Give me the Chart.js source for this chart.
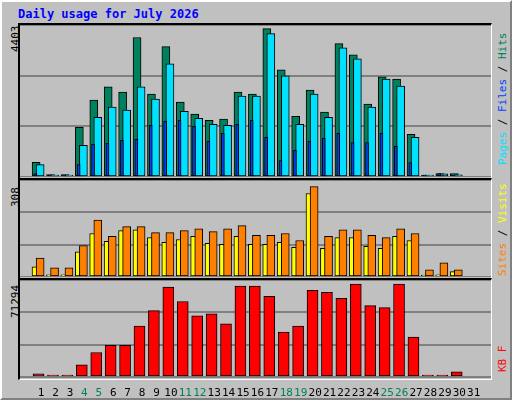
<!DOCTYPE html>
<html><head><meta charset="utf-8">
<script src="https://cdn.jsdelivr.net/npm/chart.js@4"></script>
<style>
body{margin:0;background:#C0C0C0;font-family:"DejaVu Sans Mono",monospace;}
#frame{position:absolute;left:0;top:0;width:508px;height:396px;border-top:2px solid #fff;border-left:2px solid #fff;border-right:2px solid #808080;border-bottom:2px solid #808080;}
#title{position:absolute;left:18px;top:7px;color:#0000FF;font-weight:bold;font-size:12px;}
.panel{position:absolute;left:18px;width:471px;border-top:2px solid #000;border-left:2px solid #000;border-right:1px solid #fff;}
canvas{position:absolute;}
.ylab{position:absolute;font-size:11px;transform-origin:0 0;transform:rotate(-90deg);white-space:nowrap;}
</style></head><body>
<div id="frame"></div>
<div id="title">Daily usage for July 2026</div>
<div class="panel" style="top:23px;height:154px"></div>
<div class="panel" style="top:178px;height:99px"></div>
<div class="panel" style="top:278px;height:99px;border-bottom:1px solid #fff"></div>
<div class="ylab" style="left:9px;top:52px">4403</div>
<div class="ylab" style="left:9px;top:207px">308</div>
<div class="ylab" style="left:9px;top:318px">71294</div>
<div class="ylab" style="left:496px;top:165px"><span style="color:#00E0FF">Pages</span> / <span style="color:#0040FF">Files</span> / <span style="color:#00805C">Hits</span></div>
<div class="ylab" style="left:496px;top:276px"><span style="color:#FF8000">Sites</span> / <span style="color:#FFFF00">Visits</span></div>
<div class="ylab" style="left:496px;top:372px"><span style="color:#FF0000">KB F</span></div>
<canvas id="c1" style="left:20px;top:25px" width="471" height="152"></canvas>
<canvas id="c2" style="left:20px;top:180px" width="471" height="97"></canvas>
<canvas id="c3" style="left:20px;top:280px" width="471" height="117"></canvas>
<script>
const days = Array.from({length:31},(_,i)=>i+1);
const weekends = [4,5,11,12,18,19,25,26];
const hits  = [428,70,70,1440,2230,2610,2460,4040,2400,3775,2170,1820,1645,1675,2460,2400,4300,3105,1760,2520,1880,3865,3540,2110,2900,2840,1235,30,100,100,null];
const files = [360,50,50,915,1730,2025,1935,2610,2255,3280,1905,1700,1525,1495,2345,2345,4155,2930,1525,2400,1730,3745,3425,2025,2840,2635,1150,0,90,60,null];
const pages = [100,30,30,360,945,975,1060,1090,1500,1615,1645,1470,1030,1265,1525,1645,1150,475,770,1030,1120,1265,1000,1000,1265,885,420,0,100,30,null];
const sites  = [32,7,7,80,138,113,147,150,125,110,119,129,107,104,129,104,104,110,94,265,91,125,125,97,91,129,116,4,7,17,null];
const visits = [60,29,29,100,181,129,160,160,141,141,147,153,144,153,163,132,132,138,116,287,129,150,150,132,125,153,138,23,45,23,null];
const kbytes = [2250,0,0,9000,18000,23250,23250,37500,48750,66000,55500,45000,46500,39000,66750,66750,59250,33000,37500,63750,62250,57750,68250,52500,51000,68250,29250,0,0,3750,null];
const maxTop = 4403, maxMid = 308, maxBot = 71294;

const pts = (vals, off) => vals.map((v,i)=>({x: days[i]+off, y: v}));
const ds = (vals, off, color, w, order) => ({data: pts(vals,off), backgroundColor: color, borderColor:'#000', borderWidth:1,
  borderSkipped:false, barThickness:w, grouped:false, order, minBarLength:2});

function panel(id, datasets, max, showX){
  new Chart(document.getElementById(id), {
    type:'bar',
    data:{datasets},
    options:{
      responsive:false, animation:false, layout:{padding:0, autoPadding:false},
      plugins:{legend:{display:false}, tooltip:{enabled:false}},
      scales:{
        x:{type:'linear', min:0.06, max:31.67, display:showX, grid:{display:false}, border:{display:false},
          afterBuildTicks: s => { s.ticks = days.map(d=>({value:d})); },
          afterFit: s => { if (showX) s.height = 20; },
          ticks:{autoSkip:false, maxRotation:0, padding:2, font:{family:'DejaVu Sans Mono', size:11},
            color: c => weekends.includes(c.tick.value) ? '#00805C' : '#000', callback: v => v}},
        y:{min:0, max, display:true, border:{display:false}, ticks:{display:false, stepSize:max/3, padding:0},
          afterFit: s => { s.width = 0; },
          grid:{color:'#808080', lineWidth:2, drawTicks:false}}
      }
    }
  });
}
panel('c1', [ds(hits,-0.35,'#00805C',8,3), ds(files,-0.07,'#00E0FF',8,2), ds(pages,-0.4,'#0040FF',3,1)], maxTop, false);
panel('c2', [ds(sites,-0.46,'#FFFF00',5,2), ds(visits,-0.07,'#FF8000',8,1)], maxMid, false);
panel('c3', [ds(kbytes,-0.18,'#FF0000',11,1)], maxBot, true);
</script>
</body></html>
